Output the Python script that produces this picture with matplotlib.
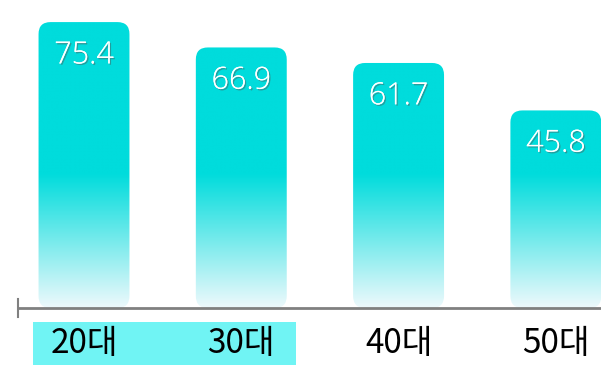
import numpy as np
import matplotlib
matplotlib.use("Agg")
import matplotlib.pyplot as plt
from matplotlib.patches import FancyBboxPatch, Rectangle
import matplotlib.patheffects as pe

categories = ["20대", "30대", "40대", "50대"]
values = [75.4, 66.9, 61.7, 45.8]
highlighted = ["20대", "30대"]

W, H = 601, 365
fig = plt.figure(figsize=(W / 100, H / 100), dpi=100)
ax_bottom = (H - 308) / H
ax = fig.add_axes([17 / W, ax_bottom, (601 - 17) / W, 1 - ax_bottom])

base = -20.4
ymax = 82.8
xlo, xhi = -0.426, 3.287
ax.set_xlim(xlo, xhi)
ax.set_ylim(base, ymax)
for s in ax.spines.values():
    s.set_visible(False)
ax.set_xticks([])
ax.set_yticks([])

axw_px = (601 - 17)
axh_px = 308
px_x = (xhi - xlo) / axw_px
px_y = (ymax - base) / axh_px
r_px = 12
rx = r_px * px_x
ry = r_px * px_y

bar_w = 0.578
x = np.arange(len(categories))

ny = 400
yy = np.linspace(base, ymax, ny)
fade = 45.0
t = np.clip((yy - base) / fade, 0, 1)
top_c = np.array([0x00, 0xDC, 0xDC]) / 255
bot_c = np.array([0xEE, 0xF9, 0xFC]) / 255
rows = bot_c[None, :] * (1 - t[:, None]) + top_c[None, :] * t[:, None]
img = np.repeat(rows[:, None, :], 2, axis=1)

for xi, v in zip(x, values):
    patch = FancyBboxPatch((xi - bar_w / 2, base), bar_w, v - base,
                           boxstyle=f"round,pad=0,rounding_size={rx}",
                           mutation_aspect=ry / rx,
                           facecolor="none", edgecolor="none")
    ax.add_patch(patch)
    im = ax.imshow(img, extent=(xlo, xhi, base, ymax), origin="lower",
                   aspect="auto", interpolation="bilinear", zorder=2)
    im.set_clip_path(patch)
    ax.annotate(f"{v:.1f}", (xi, v), xytext=(0, -24), textcoords="offset points",
                ha="center", va="center", color="white", fontsize=22,
                fontweight="light",
                family=["Open Sans", "DejaVu Sans"], zorder=5,
                path_effects=[pe.withSimplePatchShadow(offset=(1, -1), shadow_rgbFace="#505050", alpha=0.45),
                              pe.Normal()])

ax.plot([xlo, xhi], [base, base], color="#808080", lw=2, clip_on=False, zorder=3,
        solid_capstyle="butt")
ax.plot([xlo + 1 * px_x, xlo + 1 * px_x], [base - 9 * px_y, base + 9 * px_y],
        color="#808080", lw=1.5, clip_on=False, zorder=3)

fig.patches.append(Rectangle((33 / W, 0), (296 - 33) / W, (365 - 322) / H,
                             transform=fig.transFigure, facecolor="#70F4F4",
                             edgecolor="none", zorder=0))

for xi, c in zip(x, categories):
    disp = ax.transData.transform((xi, base))
    fx = disp[0] / W
    fig.text(fx, (365 - 344) / H, c, ha="center", va="center", fontsize=24,
             fontweight="light",
             color="black", family=["Noto Sans CJK KR", "DejaVu Sans"], zorder=3)

fig.savefig("out.png", dpi=100)
